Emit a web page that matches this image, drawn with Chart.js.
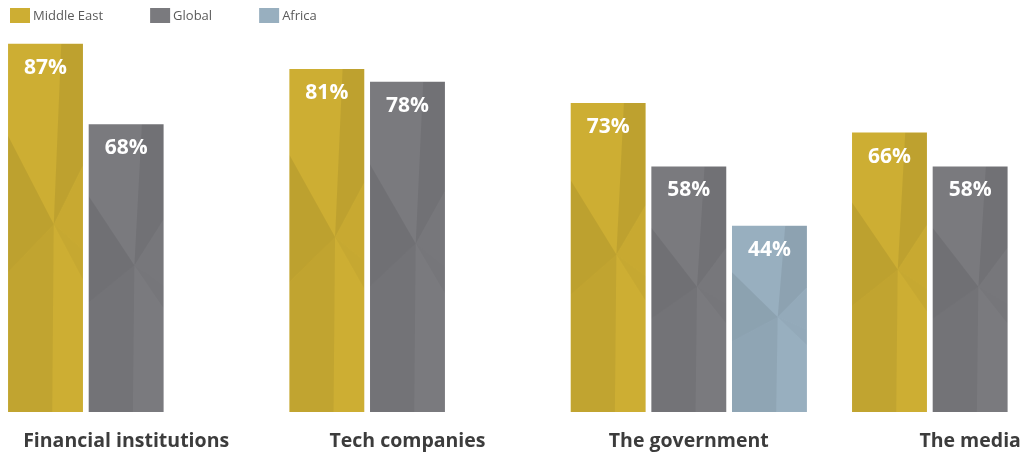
<!DOCTYPE html>
<html>
<head>
<meta charset="utf-8">
<title>Trust by sector</title>
<script src="https://cdn.jsdelivr.net/npm/chart.js@4.4.1/dist/chart.umd.min.js"></script>
<style>
    html, body { margin: 0; padding: 0; background: #ffffff; }
    #wrap { width: 1023px; height: 455px; }
</style>
</head>
<body>
<div id="wrap"><canvas id="trust_by_sector" width="1023" height="455"></canvas></div>
<script>
const categories = ['Financial institutions', 'Tech companies', 'The government', 'The media'];
const seriesNames = ['Middle East', 'Global', 'Africa'];
const middleEastValues = [87, 81, 73, 66];
const globalValues = [68, 78, 58, 58];
const africaValues = [null, null, 44, null];

const seriesColors = ['#cdae33', '#7a7a7e', '#98afbf'];

function toPoints(values) {
    return values.map(function (v, i) {
        return {x: i, y: v};
    });
}

// low-poly shading laid over every bar, in bar-relative coordinates (0..1)
const facets = [
    {pts: [[0.71, 0], [1, 0], [1, 0.33], [0.61, 0.49]], shade: 0.07},
    {pts: [[1, 0.33], [0.61, 0.49], [1, 0.56]], shade: 0.025},
    {pts: [[0, 0.25], [0.61, 0.49], [0, 0.62]], shade: 0.075},
    {pts: [[0, 0.62], [0.61, 0.49], [0.59, 1], [0, 1]], shade: 0.055},
    {pts: [[0.61, 0.49], [1, 0.56], [1, 0.64]], shade: 0.03}
];

const barDecorations = {
    id: 'barDecorations',
    afterDatasetsDraw(chart) {
        const ctx = chart.ctx;
        chart.data.datasets.forEach(function (ds, di) {
            const meta = chart.getDatasetMeta(di);
            meta.data.forEach(function (bar, i) {
                const value = ds.data[i].y;
                if (value === null) return;
                const {x, y, base, width} = bar.getProps(['x', 'y', 'base', 'width'], true);
                const left = x - width / 2;
                const h = base - y;

                ctx.save();
                ctx.beginPath();
                ctx.rect(left, y, width, h);
                ctx.clip();
                facets.forEach(function (f) {
                    ctx.beginPath();
                    f.pts.forEach(function (p, k) {
                        const px = left + p[0] * width;
                        const py = y + p[1] * h;
                        if (k === 0) ctx.moveTo(px, py); else ctx.lineTo(px, py);
                    });
                    ctx.closePath();
                    ctx.fillStyle = 'rgba(0,0,0,' + f.shade + ')';
                    ctx.fill();
                });
                ctx.restore();

                ctx.save();
                ctx.fillStyle = '#ffffff';
                ctx.font = 'bold 21px "Open Sans"';
                ctx.textAlign = 'center';
                ctx.textBaseline = 'alphabetic';
                ctx.fillText(value + '%', x, y + 30);
                ctx.restore();
            });
        });
    }
};

const seriesLegend = {
    id: 'seriesLegend',
    afterDraw(chart) {
        const ctx = chart.ctx;
        ctx.save();
        ctx.font = '13px "Open Sans"';
        ctx.textBaseline = 'middle';
        ctx.textAlign = 'left';
        let cursor = 10;
        chart.data.datasets.forEach(function (ds) {
            ctx.fillStyle = ds.backgroundColor;
            ctx.fillRect(cursor, 8, 20, 15);
            ctx.fillStyle = '#5a5a5a';
            ctx.fillText(ds.label, cursor + 23, 16);
            cursor += 23 + ctx.measureText(ds.label).width + 47;
        });
        ctx.restore();
    }
};

const trustElement = document.getElementById('trust_by_sector').getContext('2d');
const trustChart = new Chart(trustElement, {
    type: 'bar',
    data: {
        datasets: [{
            label: seriesNames[0],
            data: toPoints(middleEastValues),
            backgroundColor: seriesColors[0]
        }, {
            label: seriesNames[1],
            data: toPoints(globalValues),
            backgroundColor: seriesColors[1]
        }, {
            label: seriesNames[2],
            data: toPoints(africaValues),
            backgroundColor: seriesColors[2]
        }]
    },
    options: {
        responsive: false,
        animation: false,
        devicePixelRatio: 1,
        categoryPercentage: 0.86,
        barPercentage: 0.929,
        layout: {padding: {top: 31, left: 0, right: 0, bottom: 0}},
        plugins: {
            legend: {display: false},
            tooltip: {enabled: false}
        },
        scales: {
            x: {
                type: 'linear',
                offset: false,
                min: -0.4484,
                max: 3.1879,
                grid: {display: false, drawTicks: false, offset: false},
                border: {display: false},
                afterBuildTicks: function (axis) {
                    axis.ticks = categories.map(function (c, i) {
                        return {value: i};
                    });
                },
                afterFit: function (axis) {
                    axis.height = 43;
                    axis.paddingLeft = 0;
                    axis.paddingRight = 0;
                },
                ticks: {
                    autoSkip: false,
                    maxRotation: 0,
                    padding: 18,
                    color: '#3c3c3c',
                    font: {family: '"Open Sans"', size: 19.5, weight: 'bold'},
                    callback: function (value) {
                        return categories[value];
                    }
                }
            },
            y: {
                display: false,
                min: 0,
                max: 90
            }
        }
    },
    plugins: [barDecorations, seriesLegend]
});
</script>
</body>
</html>
